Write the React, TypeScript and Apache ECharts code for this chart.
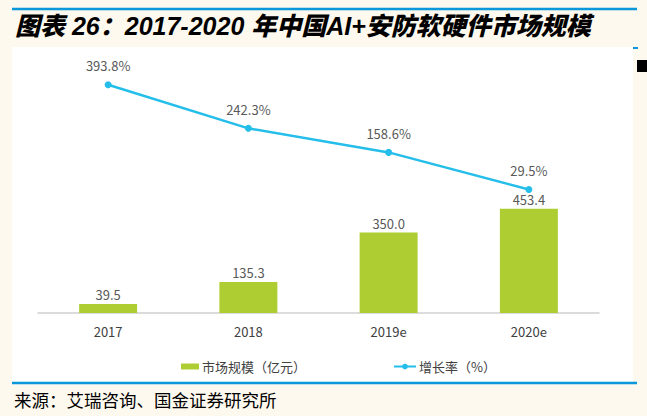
import React, { useEffect, useRef } from "react";
import * as echarts from "echarts";

const categories = ["2017", "2018", "2019e", "2020e"];
const marketSize = [39.5, 135.3, 350.0, 453.4];
const growthRate = [393.8, 242.3, 158.6, 29.5];

const titleText = "图表 26：2017-2020 年中国AI+安防软硬件市场规模";
const sourceText = "来源：艾瑞咨询、国金证券研究所";
const sizeName = "市场规模（亿元）";
const rateName = "增长率（%）";

const BAR_COLOR = "#AECD33";
const LINE_COLOR = "#25BEEA";
const ACCENT = "#0A98DA";
const CJK = '"Noto Sans CJK SC", "Noto Sans", sans-serif';

export default function App() {
  const ref = useRef<HTMLDivElement>(null);

  useEffect(() => {
    if (!ref.current) return;
    const chart = echarts.init(ref.current, null, { renderer: "svg" });
    chart.setOption({
      animation: false,
      backgroundColor: "#FEF9EE",
      textStyle: { fontFamily: CJK },
      graphic: [
        { type: "rect", z: -10, silent: true, shape: { x: 12, y: 47, width: 621, height: 335 }, style: { fill: "#FFFFFF" } },
        { type: "line", z: 10, silent: true, shape: { x1: 12, y1: 9, x2: 637, y2: 9 }, style: { stroke: ACCENT, lineWidth: 2.5 } },
        { type: "line", z: 10, silent: true, shape: { x1: 12, y1: 383, x2: 637, y2: 383 }, style: { stroke: ACCENT, lineWidth: 2.5 } },
        { type: "line", z: 10, silent: true, shape: { x1: 633, y1: 48, x2: 638, y2: 48 }, style: { stroke: ACCENT, lineWidth: 2 } },
        { type: "rect", z: 10, silent: true, shape: { x: 637, y: 60, width: 10, height: 12 }, style: { fill: "#000000" } },
        {
          type: "text",
          z: 10,
          x: 15,
          y: 26,
          style: {
            text: titleText,
            fontSize: 25,
            fontWeight: 900,
            fontStyle: "italic",
            fontFamily: '"Liberation Sans", "Noto Sans CJK SC", sans-serif',
            fill: "#000000",
            verticalAlign: "middle",
          },
        },
        {
          type: "text",
          z: 10,
          x: 14,
          y: 399,
          style: {
            text: sourceText,
            fontSize: 17.5,
            fontFamily: CJK,
            fill: "#000000",
            verticalAlign: "middle",
          },
        },
      ],
      legend: [
        {
          data: [{ name: sizeName, icon: "rect" }],
          left: 176,
          top: 355,
          itemWidth: 18,
          itemHeight: 6,
          itemGap: 3,
          textStyle: { fontSize: 13, color: "#404040", fontFamily: CJK, padding: [0, 0, 0, -2] },
        },
        {
          data: [{ name: rateName }],
          left: 388,
          top: 355,
          itemWidth: 22,
          itemHeight: 7,
          textStyle: { fontSize: 13, color: "#404040", fontFamily: CJK, padding: [0, 0, 0, -2] },
        },
      ],
      grid: { left: 38, right: 48, top: 83, bottom: 103, containLabel: false },
      xAxis: {
        type: "category",
        data: categories,
        axisLine: { lineStyle: { color: "#D0D0D0", width: 1.5 } },
        axisTick: { show: false },
        axisLabel: { fontSize: 13, color: "#404040", margin: 12, fontFamily: CJK },
      },
      yAxis: [
        { type: "value", min: 0, max: 1000, show: false, splitLine: { show: false } },
        { type: "value", min: -400, max: 400, show: false, splitLine: { show: false } },
      ],
      series: [
        {
          name: sizeName,
          type: "bar",
          data: marketSize,
          barWidth: 58,
          itemStyle: { color: BAR_COLOR },
          label: {
            show: true,
            position: "top",
            distance: 3,
            fontSize: 13,
            color: "#595959",
            fontFamily: CJK,
            formatter: (p: any) => p.value.toFixed(1),
          },
        },
        {
          name: rateName,
          type: "line",
          yAxisIndex: 1,
          data: growthRate,
          symbol: "circle",
          symbolSize: 7,
          lineStyle: { color: LINE_COLOR, width: 2.5 },
          itemStyle: { color: LINE_COLOR },
          label: {
            show: true,
            position: "top",
            distance: 9,
            fontSize: 13,
            color: "#595959",
            fontFamily: CJK,
            formatter: (p: any) => p.value.toFixed(1) + "%",
          },
          z: 5,
        },
      ],
    });
    return () => chart.dispose();
  }, []);

  return (
    <div
      ref={ref}
      style={{ position: "fixed", left: 0, top: 0, width: 647, height: 416 }}
    />
  );
}
